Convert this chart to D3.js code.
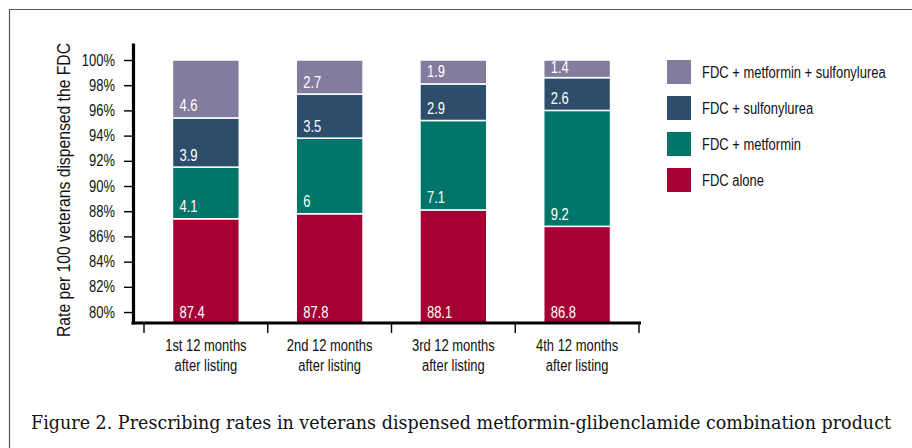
<!DOCTYPE html>
<html>
<head>
<meta charset="utf-8">
<script src="https://cdn.jsdelivr.net/npm/d3@7"></script>
<style>
  body { margin: 0; background: #fff; }
  svg { display: block; }
  .narrow { font-family: "Liberation Sans", Arial, sans-serif; }
  .caption { font-family: "DejaVu Serif", "Liberation Serif", serif; }
</style>
</head>
<body>
<svg id="chart"></svg>
<script>
//////////////////////////////////////////////////////////////
// data
var periods = ["1st 12 months|after listing", "2nd 12 months|after listing",
               "3rd 12 months|after listing", "4th 12 months|after listing"];
var seriesNames = ["FDC alone", "FDC + metformin", "FDC + sulfonylurea", "FDC + metformin + sulfonylurea"];
var fdcAlone      = [87.4, 87.8, 88.1, 86.8];
var fdcMetformin  = [4.1, 6, 7.1, 9.2];
var fdcSulfonyl   = [3.9, 3.5, 2.9, 2.6];
var fdcMetSulf    = [4.6, 2.7, 1.9, 1.4];
var yTicks = [80, 82, 84, 86, 88, 90, 92, 94, 96, 98, 100];
var colors = ["#a50034", "#00756a", "#2d4e6b", "#847c9e"];
//////////////////////////////////////////////////////////////

var screen = {width: 912, height: 448};
var plot = {left: 133, right: 641, top: 43, bottom: 324};

// the reference font is a condensed grotesque; squeeze Liberation Sans to match
var squeeze = 0.81;

var svg = d3.select("#chart")
    .attr("width", screen.width)
    .attr("height", screen.height);

// frame (top + left only)
svg.append("path")
    .attr("d", "M9.5," + screen.height + "V9.5H" + screen.width)
    .attr("fill", "none")
    .attr("stroke", "#555")
    .attr("stroke-width", 1.2);

// scales
var yMin = 79.05, yMax = 101.35;
var yScale = d3.scaleLinear()
    .domain([yMin, yMax])
    .range([plot.bottom, plot.top]);

var slot = d3.scaleBand()
    .domain(periods)
    .range([144, 639])
    .padding(0);
var barWidth = slot.bandwidth() * 0.54;

// stack
var table = periods.map(function(p, i) {
    return {period: p, s0: fdcAlone[i], s1: fdcMetformin[i], s2: fdcSulfonyl[i], s3: fdcMetSulf[i]};
});
var keys = ["s0", "s1", "s2", "s3"];
var stacked = d3.stack().keys(keys)(table);

var bars = svg.append("g").classed("bars", true);

var layers = bars.selectAll("g")
    .data(stacked)
    .enter()
    .append("g")
    .attr("fill", function(d, i) { return colors[i]; });

layers.selectAll("rect")
    .data(function(d) { return d; })
    .enter()
    .append("rect")
    .attr("x", function(d) { return slot(d.data.period) + (slot.bandwidth() - barWidth) / 2; })
    .attr("width", barWidth)
    .attr("y", function(d) { return yScale(d[1]); })
    .attr("height", function(d) { return yScale(Math.max(d[0], yMin)) - yScale(d[1]); })
    .attr("stroke", "#fff")
    .attr("stroke-width", 1.5);

layers.selectAll("text")
    .data(function(d) { return d.map(function(v) { return {v: v, key: d.key}; }); })
    .enter()
    .append("text")
    .classed("narrow", true)
    .attr("x", function(d) { return slot(d.v.data.period) + (slot.bandwidth() - barWidth) / 2 + 7; })
    .attr("y", function(d) {
        var bottom = yScale(Math.max(d.v[0], yMin));
        var top = yScale(d.v[1]);
        return Math.max(bottom - 6.5, top + 12.5);
    })
    .attr("fill", "#fff")
    .attr("font-size", 16)
    .text(function(d) { return d.v.data[d.key]; });

// y axis
var yAxis = d3.axisLeft(yScale)
    .tickValues(yTicks)
    .tickFormat(function(d) { return d + "%"; })
    .tickSize(9)
    .tickSizeOuter(0)
    .tickPadding(9);

var yG = svg.append("g")
    .attr("transform", "translate(" + plot.left + ",0)")
    .call(yAxis);
yG.attr("font-family", null);
yG.select(".domain").attr("stroke-width", 3.2).attr("stroke", "#000");
yG.selectAll(".tick line").attr("stroke-width", 1.4);
yG.selectAll(".tick text")
    .classed("narrow", true)
    .attr("font-size", 16)
    .attr("fill", "#111");

// x axis
var xG = svg.append("g");
xG.append("line")
    .attr("x1", plot.left - 1.5).attr("x2", plot.right)
    .attr("y1", plot.bottom - 1).attr("y2", plot.bottom - 1)
    .attr("stroke", "#000")
    .attr("stroke-width", 3.2);

var edges = periods.map(function(p) { return slot(p); }).concat([slot.range()[1]]);
xG.selectAll(".xtick")
    .data(edges)
    .enter()
    .append("line")
    .attr("x1", function(d) { return d; })
    .attr("x2", function(d) { return d; })
    .attr("y1", plot.bottom)
    .attr("y2", plot.bottom + 9)
    .attr("stroke", "#000")
    .attr("stroke-width", 1.4);

var xLabels = xG.selectAll(".xlabel")
    .data(periods)
    .enter()
    .append("text")
    .attr("class", "narrow xlabel")
    .attr("text-anchor", "middle")
    .attr("font-size", 16)
    .attr("fill", "#111");

xLabels.selectAll("tspan")
    .data(function(p) { return p.split("|").map(function(t) { return {p: p, t: t}; }); })
    .enter()
    .append("tspan")
    .attr("x", function(d) { return slot(d.p) + slot.bandwidth() / 2; })
    .attr("y", function(d, i) { return 351 + i * 20; })
    .text(function(d) { return d.t; });

// legend (top to bottom: reverse of stack order)
var legend = svg.append("g").classed("legend", true);
var legendItems = legend.selectAll("g")
    .data(seriesNames.slice().reverse())
    .enter()
    .append("g")
    .attr("transform", function(d, i) { return "translate(667," + (60 + i * 36) + ")"; });

legendItems.append("rect")
    .attr("width", 24)
    .attr("height", 24)
    .attr("fill", function(d, i) { return colors[colors.length - 1 - i]; });

legendItems.append("text")
    .classed("narrow", true)
    .attr("x", 35)
    .attr("y", 17.5)
    .attr("font-size", 16)
    .attr("fill", "#111")
    .text(function(d) { return d; });

// condense every sans text
svg.selectAll("text.narrow").each(function() {
    var el = d3.select(this);
    var parts = el.selectAll("tspan");
    var targets = parts.empty() ? [this] : parts.nodes();
    targets.forEach(function(node) {
        var w = node.getComputedTextLength();
        d3.select(node)
            .attr("textLength", w * squeeze)
            .attr("lengthAdjust", "spacingAndGlyphs");
    });
});

// y label (larger than the other texts)
svg.append("text")
    .attr("class", "narrow ylabel")
    .attr("transform", "translate(70,190) rotate(-90)")
    .attr("text-anchor", "middle")
    .attr("font-size", 18)
    .attr("fill", "#111")
    .attr("textLength", 294)
    .attr("lengthAdjust", "spacingAndGlyphs")
    .text("Rate per 100 veterans dispensed the FDC");

// caption
svg.append("text")
    .classed("caption", true)
    .attr("x", 31)
    .attr("y", 429)
    .attr("font-size", 19)
    .attr("fill", "#111")
    .attr("textLength", 860)
    .attr("lengthAdjust", "spacingAndGlyphs")
    .text("Figure 2. Prescribing rates in veterans dispensed metformin-glibenclamide combination product");
</script>
</body>
</html>
